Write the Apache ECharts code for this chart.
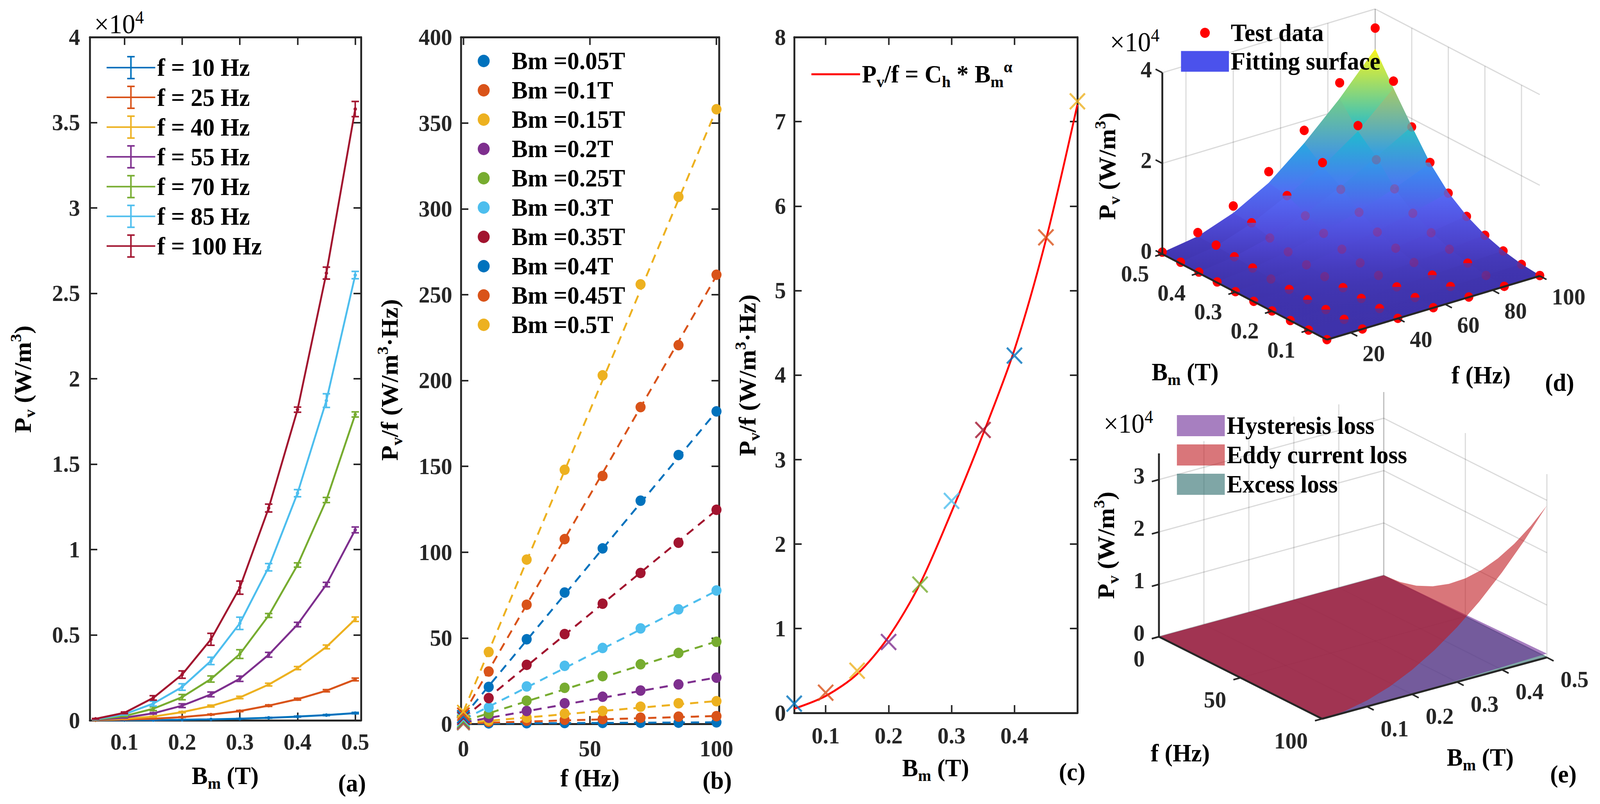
<!DOCTYPE html>
<html><head><meta charset="utf-8"><title>Core loss separation</title>
<script src="https://cdn.jsdelivr.net/npm/echarts@6.0.0/dist/echarts.min.js"></script>
<style>html,body{margin:0;padding:0;background:#fff;overflow:hidden}#chart{width:4277px;height:2057px;transform-origin:0 0}</style>
</head><body><div id="chart"></div>
<script>
// ================= DATA =================
// Panel (a): Pv (W/m^3) vs Bm for each frequency
const bmValues = [0.05,0.1,0.15,0.2,0.25,0.3,0.35,0.4,0.45,0.5];
const freqValues = [10,25,40,55,70,85,100];
const freqNames = ['f = 10 Hz','f = 25 Hz','f = 40 Hz','f = 55 Hz','f = 70 Hz','f = 85 Hz','f = 100 Hz'];
const pv_f10  = [3,12,19,36,60,96,150,220,308,425];
const pv_f25  = [10,46,95,190,340,545,862,1240,1735,2395];
const pv_f40  = [20,95,220,480,838,1340,2095,3060,4300,5920];
const pv_f55  = [30,155,410,860,1520,2435,3840,5610,7950,11150];
const pv_f70  = [45,250,680,1360,2420,3880,6140,9095,12900,17910];
const pv_f85  = [60,356,980,1952,3480,5680,8965,13300,18720,26070];
const pv_f100 = [90,440,1315,2680,4745,7770,12430,18190,26185,35790];
const err_f10  = [2,4,6,8,10,15,20,25,30,40];
const err_f25  = [5,8,12,18,25,35,45,55,65,80];
const err_f40  = [5,10,20,35,55,70,80,90,110,130];
const err_f55  = [8,20,40,110,140,155,140,130,130,170];
const err_f70  = [10,30,110,155,180,255,115,125,150,150];
const err_f85  = [15,40,140,190,215,360,215,210,400,215];
const err_f100 = [20,50,130,215,350,385,230,150,350,445];

// Panel (b): Pv/f vs f for each Bm
const bmNames = ['Bm =0.05T','Bm =0.1T','Bm =0.15T','Bm =0.2T','Bm =0.25T','Bm =0.3T','Bm =0.35T','Bm =0.4T','Bm =0.45T','Bm =0.5T'];
const pvf_bm005 = [0.3,0.4,0.5,0.55,0.65,0.7,0.9];
const pvf_bm010 = [1.2,1.85,2.4,2.8,3.6,4.2,4.5];
const pvf_bm015 = [1.9,3.6,6.0,7.5,10.0,12.0,13.2];
const pvf_bm020 = [3.6,7.5,12.0,15.8,19.4,23.0,26.9];
const pvf_bm025 = [6.0,13.5,21.0,27.8,34.7,41.3,47.8];
const pvf_bm030 = [9.6,21.8,33.8,44.2,55.6,66.7,77.7];
const pvf_bm035 = [15.0,34.4,52.3,70.0,87.9,105.5,124.7];
const pvf_bm040 = [21.5,49.3,76.5,102.2,130.0,156.6,182.0];
const pvf_bm045 = [30.5,69.4,107.6,144.4,184.5,220.6,261.6];
const pvf_bm050 = [41.9,95.7,148.0,203.0,256.0,307.0,358.0];
const hystCoef  = [0.11,0.24,0.5,0.84,1.52,2.51,3.35,4.23,5.63,7.24]; // intercepts (x markers in b, crosses in c)
const fitLineEnd100 = [0.9,4.6,13.3,27,48,77.5,124.5,182,261,358];   // dashed fit value at f = 100 Hz

// Panel (c): fitted curve Pv/f = Ch*Bm^alpha
const curveBm  = [0.05,0.1,0.15,0.2,0.25,0.3,0.35,0.4,0.45,0.5];
const curveVal = [0.05,0.2,0.46,0.9,1.53,2.38,3.3,4.3,5.6,7.2];

// Panel (d): fitting surface (x1e4 W/m^3), rows = Bm 0.05..0.5, cols = f 10..100
const fitSurface = [
  [0.0003,0.001,0.002,0.003,0.004,0.005,0.007],
  [0.0012,0.0045,0.0095,0.0155,0.025,0.036,0.045],
  [0.0025,0.0095,0.022,0.041,0.068,0.098,0.132],
  [0.004,0.019,0.048,0.088,0.14,0.2,0.27],
  [0.006,0.034,0.085,0.158,0.25,0.36,0.48],
  [0.0095,0.055,0.14,0.26,0.41,0.58,0.78],
  [0.014,0.085,0.215,0.40,0.63,0.90,1.22],
  [0.019,0.12,0.31,0.60,0.96,1.38,1.82],
  [0.025,0.14,0.41,0.79,1.20,1.74,2.45],
  [0.03,0.15,0.43,0.86,1.50,2.25,3.11]
];

// Panel (e): separated losses (x1e4 W/m^3), rows = f, cols = Bm
const eF  = [0,10,20,30,40,50,60,70,80,90,100];
const eBm = [0,0.05,0.1,0.15,0.2,0.25,0.3,0.35,0.4,0.45,0.5];
const eddyLoss = [
  [0,0,0,0,0,0,0,0,0,0,0],
  [0,0.0003,0.0012,0.0026,0.0046,0.0073,0.0104,0.0142,0.0186,0.0235,0.029],
  [0,0.0012,0.0046,0.0104,0.0186,0.029,0.0418,0.0568,0.0742,0.094,0.116],
  [0,0.0026,0.0104,0.0235,0.0418,0.0653,0.094,0.128,0.167,0.211,0.261],
  [0,0.0046,0.0186,0.0418,0.0742,0.116,0.167,0.227,0.297,0.376,0.464],
  [0,0.0073,0.029,0.0653,0.116,0.181,0.261,0.355,0.464,0.587,0.725],
  [0,0.0104,0.0418,0.094,0.167,0.261,0.376,0.512,0.668,0.846,1.044],
  [0,0.0142,0.0568,0.128,0.227,0.355,0.512,0.696,0.909,1.151,1.421],
  [0,0.0186,0.0742,0.167,0.297,0.464,0.668,0.909,1.188,1.503,1.856],
  [0,0.0235,0.094,0.211,0.376,0.587,0.846,1.151,1.503,1.903,2.349],
  [0,0.029,0.116,0.261,0.464,0.725,1.044,1.421,1.856,2.349,2.9]
];
const hF  = [0,50,100];
const hBm = [0,0.25,0.5];
const hystLoss   = [[0,0,0],[0,0.0076,0.036],[0,0.0152,0.0724]];
const excessLoss = [[0,0,0],[0,0.002,0.006],[0,0.005,0.017]];

// tick values
const aTicksX = [0.1,0.2,0.3,0.4,0.5];
const bTicksX = [0,50,100];
const cTicksX = [0.1,0.2,0.3,0.4];
const dZTicks = [0,20000,40000], dBmTicks = [0.1,0.2,0.3,0.4,0.5], dFTicks = [20,40,60,80,100];
const eZTicks = [0,10000,20000,30000], eFTicks = [0,50,100], eBmTicks = [0.1,0.2,0.3,0.4,0.5];

// ================= STYLE =================
const pvSeries  = [pv_f10,pv_f25,pv_f40,pv_f55,pv_f70,pv_f85,pv_f100];
const errSeries = [err_f10,err_f25,err_f40,err_f55,err_f70,err_f85,err_f100];
const pvfSeries = [pvf_bm005,pvf_bm010,pvf_bm015,pvf_bm020,pvf_bm025,pvf_bm030,pvf_bm035,pvf_bm040,pvf_bm045,pvf_bm050];
const FONT = '"Liberation Serif","Times New Roman",serif';
const AX = '#262626';
const C7 = ['#0072BD','#D95319','#EDB120','#7E2F8E','#77AC30','#4DBEEE','#A2142F'];
const bmColors = bmValues.map((b,i)=>C7[i%7]);
const X_PATH = 'path://M0,0.85L0.85,0L10,9.15L9.15,10Z M9.15,0L10,0.85L0.85,10L0,9.15Z';
const EB_PATH = 'path://M0,28h130v4h-130z M63,2h4v56h-4z M55,0h20v4h-20z M55,56h20v4h-20z';
const RICH = {
  b:{fontFamily:FONT,fontWeight:'bold',fontSize:64,color:'#000',lineHeight:80},
  s:{fontFamily:FONT,fontWeight:'bold',fontSize:42,color:'#000',lineHeight:30,verticalAlign:'bottom'},
  p:{fontFamily:FONT,fontWeight:'bold',fontSize:42,color:'#000',lineHeight:30,verticalAlign:'top'},
  n:{fontFamily:FONT,fontWeight:'normal',fontSize:70,color:'#000',lineHeight:80},
  pn:{fontFamily:FONT,fontWeight:'normal',fontSize:46,color:'#000',lineHeight:30,verticalAlign:'top'}
};
const PV  = '{b|P}{s|v}{b| (W/m}{p|3}{b|)}';
const PVF = '{b|P}{s|v}{b|/f (W/m}{p|3}{b|·Hz)}';
const BMT = '{b|B}{s|m}{b| (T)}';
const FHZ = '{b|f (Hz)}';
const X104 = '{n|×10}{pn|4}';

// ---------- 3D view geometry (panel d and e) ----------
const dRange = {bm:[0.05,0.5], f:[10,100], z:[0,40000]};
const dBox = {front:[597,869], uVec:[-440,-219], vVec:[569,-163], zPx:464};
function projD(bm,f,z){
  const u=(bm-dRange.bm[0])/(dRange.bm[1]-dRange.bm[0]);
  const v=(f-dRange.f[0])/(dRange.f[1]-dRange.f[0]);
  const w=(z-dRange.z[0])/(dRange.z[1]-dRange.z[0]);
  return [dBox.front[0]+u*dBox.uVec[0]+v*dBox.vVec[0], dBox.front[1]+u*dBox.uVec[1]+v*dBox.vVec[1]-w*dBox.zPx];
}
const eRange = {f:[0,100], bm:[0,0.5], z:[0,35000]};
const eBox = {origin:[148,599], fVec:[436,210], bmVec:[601,-157], zPx:469};
function projE(f,bm,z){
  const p=(f-eRange.f[0])/(eRange.f[1]-eRange.f[0]);
  const q=(bm-eRange.bm[0])/(eRange.bm[1]-eRange.bm[0]);
  const w=(z-eRange.z[0])/(eRange.z[1]-eRange.z[0]);
  return [eBox.origin[0]+p*eBox.fVec[0]+q*eBox.bmVec[0], eBox.origin[1]+p*eBox.fVec[1]+q*eBox.bmVec[1]-w*eBox.zPx];
}
const CMAP = [[0,62,50,170],[0.1,80,72,215],[0.25,85,105,245],[0.4,55,145,240],[0.55,30,185,210],[0.7,95,205,150],[0.82,190,200,90],[0.92,245,190,70],[1,250,245,30]];
const surfMax = Math.max(...fitSurface.map(r=>Math.max(...r)))*1e4;
function cmap(z){
  let t=Math.max(0,Math.min(1,z/surfMax));
  for(let k=1;k<CMAP.length;k++){
    if(t<=CMAP[k][0]){const a=CMAP[k-1],b=CMAP[k];const s=(t-a[0])/(b[0]-a[0]);
      return 'rgb('+[1,2,3].map(c=>Math.round(a[c]+s*(b[c]-a[c]))).join(',')+')';}
  }
  return 'rgb(250,245,30)';
}

// ================= AXES =================
function tickLabel(m){return {show:true,color:AX,fontFamily:FONT,fontWeight:'bold',fontSize:60,margin:m};}
function axLine(){return {show:true,onZero:false,lineStyle:{color:AX,width:5}};}
function axTick(cv){const t={show:true,inside:true,length:20,lineStyle:{color:AX,width:4}}; if(cv) t.customValues=cv; return t;}
function mkX(gi,min,max,ticks,margin){
  return [
    {type:'value',gridIndex:gi,min,max,position:'bottom',splitLine:{show:false},axisLine:axLine(),axisTick:axTick(ticks),
     axisLabel:Object.assign(tickLabel(margin),{customValues:ticks,formatter:v=>String(+(+v).toFixed(2))})},
    {type:'value',gridIndex:gi,min,max,position:'top',splitLine:{show:false},axisLine:axLine(),axisTick:axTick(ticks),axisLabel:{show:false}}
  ];
}
function mkY(gi,min,max,interval,margin,fmt){
  return [
    {type:'value',gridIndex:gi,min,max,interval,position:'left',splitLine:{show:false},axisLine:axLine(),axisTick:axTick(),
     axisLabel:Object.assign(tickLabel(margin),{formatter:fmt})},
    {type:'value',gridIndex:gi,min,max,interval,position:'right',splitLine:{show:false},axisLine:axLine(),axisTick:axTick(),axisLabel:{show:false}}
  ];
}
// axis index map: 0/1 = (a), 2/3 = (b), 4/5 = (c), 6 = (d) 3D canvas, 7 = (e) 3D canvas
const xAxes = [].concat(
  mkX(0,0.04,0.51,aTicksX,25),
  mkX(1,-1,101,bTicksX,33),
  mkX(2,0.05,0.5,cTicksX,28),
  [{type:'value',gridIndex:3,min:0,max:1327,show:false},{type:'value',gridIndex:4,min:0,max:1327,show:false}]
);
const yAxes = [].concat(
  mkY(0,0,40000,5000,26,v=>String(v/1e4)),
  mkY(1,0,400,50,23,v=>String(v)),
  mkY(2,0,8,1,22,v=>String(v)),
  [{type:'value',gridIndex:3,min:0,max:1030,inverse:true,show:false},{type:'value',gridIndex:4,min:0,max:1027,inverse:true,show:false}]
);
const D_AX = 6, E_AX = 7;
const grids = [
  {left:240,top:95,width:725,height:1748,outerBoundsMode:'none'},
  {left:1232,top:95,width:690,height:1757,outerBoundsMode:'none'},
  {left:2123,top:95,width:757,height:1729,outerBoundsMode:'none'},
  {left:2950,top:0,width:1327,height:1030,outerBoundsMode:'none'},
  {left:2950,top:1030,width:1327,height:1027,outerBoundsMode:'none'}
];

// ================= SERIES =================
const series = [];
// (a) lines with error bars
freqValues.forEach((f,k)=>{
  series.push({type:'line',name:freqNames[k],xAxisIndex:0,yAxisIndex:0,z:3,
    data:bmValues.map((b,i)=>[b,pvSeries[k][i]]),symbol:'circle',symbolSize:9,showSymbol:true,
    lineStyle:{color:C7[k],width:5},itemStyle:{color:C7[k]}});
  series.push({type:'custom',name:'err'+k,xAxisIndex:0,yAxisIndex:0,z:4,silent:true,
    data:bmValues.map((b,i)=>[b,pvSeries[k][i],errSeries[k][i]]),
    renderItem:(params,api)=>{
      const x=api.value(0),y=api.value(1),e=api.value(2);
      const t=api.coord([x,y+e]),bo=api.coord([x,Math.max(0,y-e)]);const w=10;
      const st={stroke:C7[k],lineWidth:4};
      return {type:'group',children:[
        {type:'line',shape:{x1:t[0],y1:t[1],x2:bo[0],y2:bo[1]},style:st},
        {type:'line',shape:{x1:t[0]-w,y1:t[1],x2:t[0]+w,y2:t[1]},style:st},
        {type:'line',shape:{x1:bo[0]-w,y1:bo[1],x2:bo[0]+w,y2:bo[1]},style:st}]};
    }});
});
// (b) dashed fits, dots, intercept markers
bmValues.forEach((b,k)=>{
  series.push({type:'line',name:'fit'+k,xAxisIndex:2,yAxisIndex:2,z:2,symbol:'none',
    data:[[0,hystCoef[k]],[100,fitLineEnd100[k]]],lineStyle:{color:bmColors[k],width:5,type:[22,16]}});
});
bmValues.forEach((b,k)=>{
  series.push({type:'scatter',name:bmNames[k],xAxisIndex:2,yAxisIndex:2,z:3,symbol:'circle',symbolSize:27,
    data:freqValues.map((f,j)=>[f,pvfSeries[k][j]]),itemStyle:{color:bmColors[k],opacity:1}});
  series.push({type:'scatter',name:'x'+k,xAxisIndex:2,yAxisIndex:2,z:3,symbol:X_PATH,symbolSize:36,
    data:[[0,hystCoef[k]]],itemStyle:{color:bmColors[k],opacity:1}});
});
// (c)
series.push({type:'line',name:'curveC',xAxisIndex:4,yAxisIndex:4,z:2,symbol:'none',smooth:0.3,
  data:curveBm.map((b,i)=>[b,curveVal[i]]),lineStyle:{color:'#FF0000',width:5},itemStyle:{color:'#FF0000'}});
series.push({type:'scatter',name:'crossC',xAxisIndex:4,yAxisIndex:4,z:3,symbol:X_PATH,symbolSize:44,
  data:bmValues.map((b,i)=>({value:[b,hystCoef[i]],itemStyle:{color:bmColors[i]}}))});

// (d) 3D panel
const dPoints=[]; bmValues.forEach((b,i)=>freqValues.forEach((f,j)=>dPoints.push([i,j])));
const dFaces=[]; for(let i=0;i<bmValues.length-1;i++) for(let j=0;j<freqValues.length-1;j++) dFaces.push([i,j]);
dFaces.sort((a,b)=>(b[0]+b[1])-(a[0]+a[1]));
const GRIDC = 'rgba(38,38,38,0.17)';
function gl(kids,a,b,c,w){kids.push({type:'line',shape:{x1:a[0],y1:a[1],x2:b[0],y2:b[1]},style:{stroke:c,lineWidth:w}});}
series.push({type:'custom',name:'dGrid',xAxisIndex:D_AX,yAxisIndex:D_AX,z:1,silent:true,data:[[0,0]],
  renderItem:(params,api)=>{const C=(bm,f,z)=>api.coord(projD(bm,f,z));const k=[];
    dFTicks.forEach(f=>{gl(k,C(0.5,f,0),C(0.5,f,40000),GRIDC,3);gl(k,C(0.05,f,0),C(0.5,f,0),GRIDC,3);});
    dBmTicks.forEach(b=>{gl(k,C(b,100,0),C(b,100,40000),GRIDC,3);gl(k,C(b,10,0),C(b,100,0),GRIDC,3);});
    dZTicks.forEach(z=>{gl(k,C(0.5,10,z),C(0.5,100,z),GRIDC,3);gl(k,C(0.05,100,z),C(0.5,100,z),GRIDC,3);});
    return {type:'group',children:k};}});
series.push({type:'custom',name:'dUnder',xAxisIndex:D_AX,yAxisIndex:D_AX,z:2,silent:true,data:dPoints,
  renderItem:(params,api)=>{const i=api.value(0),j=api.value(1);
    const p=api.coord(projD(bmValues[i],freqValues[j],pvSeries[j][i]));
    return {type:'circle',shape:{cx:p[0],cy:p[1],r:12},style:{fill:'#FF0000'}};}});
series.push({type:'custom',name:'Fitting surface',xAxisIndex:D_AX,yAxisIndex:D_AX,z:3,silent:true,data:dFaces,
  itemStyle:{color:'#4B52EC'},
  renderItem:(params,api)=>{const i=api.value(0),j=api.value(1);
    const pts=[[i,j],[i+1,j],[i+1,j+1],[i,j+1]].map(([a,b])=>{const z=fitSurface[a][b]*1e4;
      return {p:api.coord(projD(bmValues[a],freqValues[b],z)),z};});
    let top=pts[0],bot=pts[0];pts.forEach(q=>{if(q.p[1]<top.p[1])top=q;if(q.p[1]>bot.p[1])bot=q;});
    const g=new echarts.graphic.LinearGradient(0,top.p[1],0,bot.p[1]+0.01,[{offset:0,color:cmap(top.z)},{offset:1,color:cmap(bot.z)}],true);
    return {type:'polygon',shape:{points:pts.map(q=>q.p)},style:{fill:g,stroke:g,lineWidth:1.6}};}});
series.push({type:'custom',name:'Test data',xAxisIndex:D_AX,yAxisIndex:D_AX,z:4,silent:true,data:dPoints,
  itemStyle:{color:'#FF0000'},
  renderItem:(params,api)=>{const i=api.value(0),j=api.value(1);
    const val=pvSeries[j][i],fit=fitSurface[i][j]*1e4;
    const p=api.coord(projD(bmValues[i],freqValues[j],val));
    const r=val/fit;const edge=(i===0||j===0);
    if(r>1.06) return {type:'circle',shape:{cx:p[0],cy:p[1],r:12},style:{fill:'#FF0000'}};
    if(r>=1.0||edge) return {type:'group',children:[
      {type:'sector',shape:{cx:p[0],cy:p[1],r0:0,r:12,startAngle:Math.PI,endAngle:2*Math.PI},style:{fill:'#FF0000'}},
      {type:'sector',shape:{cx:p[0],cy:p[1],r0:0,r:12,startAngle:0,endAngle:Math.PI},style:{fill:'rgba(255,0,0,0.2)'}}]};
    return {type:'circle',shape:{cx:p[0],cy:p[1],r:12},style:{fill:'rgba(255,0,0,0.2)'}};}});
function tx(kids,p,txt,align,dx,dy){kids.push({type:'text',x:p[0]+dx,y:p[1]+dy,style:{text:txt,align,verticalAlign:'middle',fill:AX,fontFamily:FONT,fontWeight:'bold',fontSize:60}});}
series.push({type:'custom',name:'dAxes',xAxisIndex:D_AX,yAxisIndex:D_AX,z:5,silent:true,data:[[0,0]],
  renderItem:(params,api)=>{const C=(bm,f,z)=>api.coord(projD(bm,f,z));const k=[];
    gl(k,C(0.5,10,0),C(0.5,10,40000),AX,5);
    gl(k,C(0.05,10,0),C(0.5,10,0),AX,5);
    gl(k,C(0.05,10,0),C(0.05,100,0),AX,5);
    dZTicks.forEach(z=>{const p=C(0.5,10,z);gl(k,p,[p[0]-18,p[1]-9],AX,4);tx(k,p,String(z/1e4),'right',-28,-8);});
    dBmTicks.forEach(b=>{const p=C(b,10,0);gl(k,p,[p[0]-19,p[1]+5.5],AX,4);tx(k,p,String(b),'center',-73,50);});
    dFTicks.forEach(f=>{const p=C(0.05,f,0);gl(k,p,[p[0]+18,p[1]+9],AX,4);tx(k,p,String(f),'left',32,53);});
    return {type:'group',children:k};}});

// (e) 3D panel
series.push({type:'custom',name:'eGrid',xAxisIndex:E_AX,yAxisIndex:E_AX,z:1,silent:true,data:[[0,0]],
  renderItem:(params,api)=>{const C=(f,bm,z)=>api.coord(projE(f,bm,z));const k=[];
    eBmTicks.forEach(b=>{gl(k,C(0,b,0),C(0,b,35000),GRIDC,3);gl(k,C(0,b,0),C(100,b,0),GRIDC,3);});
    eFTicks.forEach(f=>{gl(k,C(f,0.5,0),C(f,0.5,35000),GRIDC,3);gl(k,C(f,0,0),C(f,0.5,0),GRIDC,3);});
    eZTicks.forEach(z=>{gl(k,C(0,0,z),C(0,0.5,z),GRIDC,3);gl(k,C(0,0.5,z),C(100,0.5,z),GRIDC,3);});
    return {type:'group',children:k};}});
function surfPath(api,fArr,bArr,g){
  let d='';
  for(let a=0;a<fArr.length-1;a++)for(let b=0;b<bArr.length-1;b++){
    const q=[[a,b],[a+1,b],[a+1,b+1],[a,b+1]].map(([ia,ib])=>api.coord(projE(fArr[ia],bArr[ib],g[ia][ib]*1e4)));
    d+='M'+q[0][0].toFixed(2)+' '+q[0][1].toFixed(2)+'L'+q[1][0].toFixed(2)+' '+q[1][1].toFixed(2)+'L'+q[2][0].toFixed(2)+' '+q[2][1].toFixed(2)+'L'+q[3][0].toFixed(2)+' '+q[3][1].toFixed(2)+'Z';
  }
  return d;
}
const eSurfs = [
  {name:'Excess loss',color:'rgba(42,107,107,0.6)',f:hF,b:hBm,g:excessLoss},
  {name:'Hysteresis loss',color:'rgba(108,42,150,0.6)',f:hF,b:hBm,g:hystLoss},
  {name:'Eddy current loss',color:'rgba(192,27,33,0.6)',f:eF,b:eBm,g:eddyLoss}
];
eSurfs.forEach((s,idx)=>{
  series.push({type:'custom',name:s.name,xAxisIndex:E_AX,yAxisIndex:E_AX,z:2+idx*0.1,silent:true,data:[[0,0]],itemStyle:{color:s.color},
    renderItem:(params,api)=>({type:'path',shape:{pathData:surfPath(api,s.f,s.b,s.g)},style:{fill:s.color}})});
});
series.push({type:'custom',name:'eAxes',xAxisIndex:E_AX,yAxisIndex:E_AX,z:5,silent:true,data:[[0,0]],
  renderItem:(params,api)=>{const C=(f,bm,z)=>api.coord(projE(f,bm,z));const k=[];
    gl(k,C(0,0,0),C(0,0,35000),AX,5);
    gl(k,C(0,0,0),C(100,0,0),AX,5);
    gl(k,C(100,0,0),C(100,0.5,0),AX,5);
    eZTicks.forEach(z=>{const p=C(0,0,z);gl(k,p,[p[0]-19,p[1]+5],AX,4);tx(k,p,String(z/1e4),'right',-38,-10);});
    eFTicks.forEach(f=>{const p=C(f,0,0);gl(k,p,[p[0]-19,p[1]+5],AX,4);tx(k,p,String(f),'right',-38,56);});
    eBmTicks.forEach(b=>{const p=C(100,b,0);gl(k,p,[p[0]+18,p[1]+9],AX,4);tx(k,p,String(b),'center',74,56);});
    return {type:'group',children:k};}});

// ================= LEGENDS =================
const LT = {fontFamily:FONT,fontWeight:'bold',fontSize:64,color:'#000',lineHeight:60};
const legends = [
  {data:freqNames.map((n,k)=>({name:n,icon:EB_PATH,itemStyle:{color:C7[k]}})),orient:'vertical',left:285,top:141,
   itemWidth:130,itemHeight:60,itemGap:12.1,padding:0,selectedMode:false,textStyle:LT},
  {data:bmNames.map((n,k)=>({name:n,icon:'circle',itemStyle:{color:bmColors[k]}})),orient:'vertical',left:1277,top:124,
   itemWidth:140,itemHeight:32,itemGap:11,padding:0,selectedMode:false,textStyle:LT},
  {data:[{name:'curveC',icon:'path://M0,0h130v5h-130z',itemStyle:{color:'#FF0000'}}],left:2169,top:150,itemWidth:130,itemHeight:5,
   padding:0,selectedMode:false,formatter:()=>'{b|P}{s|v}{b|/f = C}{s|h}{b| * B}{s|m}{p|α}',textStyle:{rich:RICH,fontFamily:FONT}},
  {data:[{name:'Test data',icon:'circle',itemStyle:{color:'#FF0000'}}],left:3208,top:52,itemWidth:128,itemHeight:26,padding:0,selectedMode:false,textStyle:LT},
  {data:[{name:'Fitting surface',icon:'rect',itemStyle:{color:'#4B52EC'}}],left:3157,top:125,itemWidth:128,itemHeight:53,padding:0,selectedMode:false,textStyle:LT},
  {data:[{name:'Hysteresis loss',icon:'rect',itemStyle:{color:'rgba(108,42,150,0.6)'}},
         {name:'Eddy current loss',icon:'rect',itemStyle:{color:'rgba(192,27,33,0.6)'}},
         {name:'Excess loss',icon:'rect',itemStyle:{color:'rgba(42,107,107,0.6)'}}],
   orient:'vertical',left:3146,top:1057,itemWidth:128,itemHeight:54,itemGap:11,padding:0,selectedMode:false,textStyle:LT}
];

// ================= TITLES =================
function gt(x,y,text,rot,align){return {type:'text',x,y,rotation:(rot||0)*Math.PI/180,z:20,
  style:{text,rich:RICH,align:align||'center',verticalAlign:'middle',fontFamily:FONT}};}
const graphics = [
  gt(61,970,PV,90), gt(602,1985,BMT), gt(941,2004,'{b|(a)}'), gt(252,62,X104,0,'left'),
  gt(1042,972,PVF,90), gt(1577,1991,FHZ), gt(1917,1997,'{b|(b)}'),
  gt(1998,960,PVF,90), gt(2501,1965,BMT), gt(2866,1975,'{b|(c)}'),
  gt(2960,425,PV,90), gt(2967,108,X104,0,'left'), gt(3168,952,BMT), gt(3959,960,FHZ), gt(4169,979,'{b|(d)}'),
  gt(2957,1395,PV,90), gt(2950,1084,X104,0,'left'), gt(3155,1927,FHZ), gt(3957,1938,BMT), gt(4179,1981,'{b|(e)}')
];

// fit the 4277x2057 layout into the actual viewport
const W=4277,H=2057;
const vw=window.innerWidth||W, vh=window.innerHeight||H;
const box=document.getElementById('chart');
if(vw>100&&vh>100&&(Math.abs(vw-W)>1||Math.abs(vh-H)>1)) box.style.transform='scale('+(vw/W)+','+(vh/H)+')';

const chart = echarts.init(box,null,{renderer:'svg',width:W,height:H});
chart.setOption({
  animation:false, backgroundColor:'#ffffff',
  textStyle:{fontFamily:FONT},
  grid:grids, xAxis:xAxes, yAxis:yAxes, series, legend:legends,
  graphic:{elements:graphics}
});
</script></body></html>
